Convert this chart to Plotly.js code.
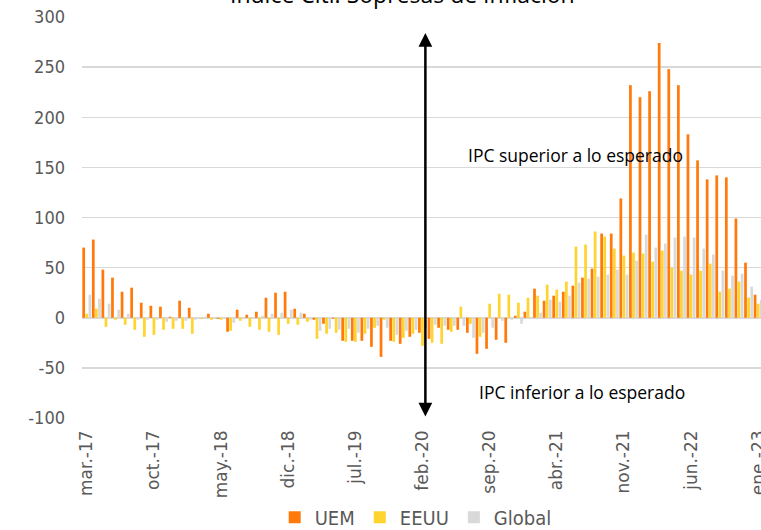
<!DOCTYPE html>
<html>
<head>
<meta charset="utf-8">
<script src="https://cdn.plot.ly/plotly-3.0.1.min.js"></script>
<style>
html, body { margin: 0; padding: 0; overflow: hidden; background: #fff; }
#chart { width: 780px; height: 530px; }
</style>
</head>
<body>
<div id="chart"></div>
<script>
const months = [
  'mar.-17','abr.-17','may.-17','jun.-17','jul.-17','ago.-17','sep.-17','oct.-17','nov.-17','dic.-17',
  'ene.-18','feb.-18','mar.-18','abr.-18','may.-18','jun.-18','jul.-18','ago.-18','sep.-18','oct.-18','nov.-18','dic.-18',
  'ene.-19','feb.-19','mar.-19','abr.-19','may.-19','jun.-19','jul.-19','ago.-19','sep.-19','oct.-19','nov.-19','dic.-19',
  'ene.-20','feb.-20','mar.-20','abr.-20','may.-20','jun.-20','jul.-20','ago.-20','sep.-20','oct.-20','nov.-20','dic.-20',
  'ene.-21','feb.-21','mar.-21','abr.-21','may.-21','jun.-21','jul.-21','ago.-21','sep.-21','oct.-21','nov.-21','dic.-21',
  'ene.-22','feb.-22','mar.-22','abr.-22','may.-22','jun.-22','jul.-22','ago.-22','sep.-22','oct.-22','nov.-22','dic.-22',
  'ene.-23'
];

const uem = [
  70, 78, 48, 40, 26, 30, 15, 12, 11, 1,
  17, 10, 0, 4, -1, -14, 8, 3, 6, 20, 25, 26,
  9, 4, -2, -6, -1, -23, -23, -23, -29, -39, -23, -26,
  -19, -15, -21, -10, -12, -12, -15, -36, -31, -22, -25, 2,
  6, 29, 17, 22, 26, 32, 40, 49, 84, 84, 119, 232,
  220, 226, 274, 248, 232, 183, 157, 138, 142, 140, 99, 55,
  23
];

const eeuu = [
  4, 9, -9, -2, -7, -12, -19, -17, -12, -11,
  -11, -16, -1, -2, -2, -13, -3, -9, -12, -14, -17, -6,
  -7, -4, -21, -16, -15, -24, -24, -16, -10, -2, -24, -20,
  -16, -28, -25, -26, -14, 11, -6, -19, 14, 24, 23, 15,
  20, 22, 33, 28, 36, 71, 73, 86, 81, 69, 62, 65,
  64, 56, 67, 50, 47, 43, 47, 54, 26, 29, 36, 20,
  14
];

const global = [
  23, 19, 14, 8, 4, -2, -2, -2, -4, -3,
  -3, -2, 1, 0, -1, -5, -1, -1, 2, 4, 5, 8,
  5, -2, -13, -11, -12, -11, -15, -11, -8, -10, -17, -13,
  -12, -10, -7, -8, -8, -8, -20, -15, -10, -3, -2, -6,
  0, 5, 18, 16, 22, 35, 39, 41, 43, 48, 43, 57,
  83, 70, 74, 80, 81, 80, 69, 63, 47, 42, 44, 31,
  18
];

const seriesNames = ['UEM', 'EEUU', 'Global'];
const seriesColors = ['#FF7A0A', '#FFD42E', '#D9D9D9'];

const xTickVals = ['mar.-17','oct.-17','may.-18','dic.-18','jul.-19','feb.-20','sep.-20','abr.-21','nov.-21','jun.-22','ene.-23'];
const yTickVals = [-100, -50, 0, 50, 100, 150, 200, 250, 300];
const yTickText = ['-100', '-50', '0', '50', '100', '150', '200', '250', '300'];

const titleText = 'Índice Citi: Sopresas de Inflación';
const noteUp = 'IPC superior a lo esperado';
const noteDown = 'IPC inferior a lo esperado';

const tickFont = 'DejaVu Sans Condensed, Liberation Sans Narrow, DejaVu Sans, sans-serif';
const xTickFont = 'DejaVu Sans, sans-serif';
const textFont = 'Open Sans, DejaVu Sans, sans-serif';

const values = [uem, eeuu, global];
const traces = values.map((v, i) => ({
  type: 'bar',
  name: seriesNames[i],
  x: months,
  y: v,
  marker: { color: seriesColors[i], line: { width: 0 } },
  hoverinfo: 'x+y+name'
}));

const layout = {
  width: 780,
  height: 530,
  margin: { l: 82, r: 17, t: 17, b: 112 },
  paper_bgcolor: '#ffffff',
  plot_bgcolor: '#ffffff',
  barmode: 'group',
  bargap: 0.03,
  bargroupgap: 0.12,
  showlegend: true,
  legend: {
    orientation: 'h',
    x: 0.49, xref: 'paper', xanchor: 'center',
    y: 0.024, yref: 'container', yanchor: 'middle',
    font: { family: tickFont, size: 20, color: '#595959' },
    itemclick: false, itemdoubleclick: false
  },
  xaxis: {
    type: 'category',
    tickmode: 'array',
    tickvals: xTickVals,
    ticktext: xTickVals,
    tickangle: -90,
    tickfont: { family: xTickFont, size: 17, color: '#595959' },
    showgrid: false,
    zeroline: false,
    showline: false,
    ticks: '',
    ticklabelstandoff: 8,
    fixedrange: true
  },
  yaxis: {
    range: [-100, 300],
    tickmode: 'array',
    tickvals: yTickVals,
    ticktext: yTickText,
    tickfont: { family: tickFont, size: 18, color: '#595959' },
    showgrid: true,
    gridcolor: '#D9D9D9',
    gridwidth: 1.5,
    zeroline: true,
    zerolinecolor: '#D9D9D9',
    zerolinewidth: 1.5,
    showline: false,
    ticks: '',
    ticklabelstandoff: 16,
    fixedrange: true
  },
  annotations: [
    {
      x: 0.47, y: 1.012, xref: 'paper', yref: 'paper',
      text: titleText, showarrow: false,
      font: { family: textFont, size: 23, color: '#000000' },
      xanchor: 'center', yanchor: 'bottom'
    },
    {
      x: 35.3, y: 284, xref: 'x', yref: 'y',
      ax: 35.3, ay: -100, axref: 'x', ayref: 'y',
      text: '', showarrow: true,
      arrowside: 'end+start', arrowhead: 2, arrowsize: 1.1,
      arrowwidth: 2.5, arrowcolor: '#000000', standoff: 0, startstandoff: 0
    },
    {
      x: 0.725, y: 162, xref: 'paper', yref: 'y',
      text: noteUp, showarrow: false,
      font: { family: textFont, size: 17.5, color: '#000000' },
      xanchor: 'center', yanchor: 'middle'
    },
    {
      x: 0.734, y: -74, xref: 'paper', yref: 'y',
      text: noteDown, showarrow: false,
      font: { family: textFont, size: 17.5, color: '#000000' },
      xanchor: 'center', yanchor: 'middle'
    }
  ]
};

Plotly.newPlot('chart', traces, layout, { displayModeBar: false, staticPlot: true });
</script>
</body>
</html>
